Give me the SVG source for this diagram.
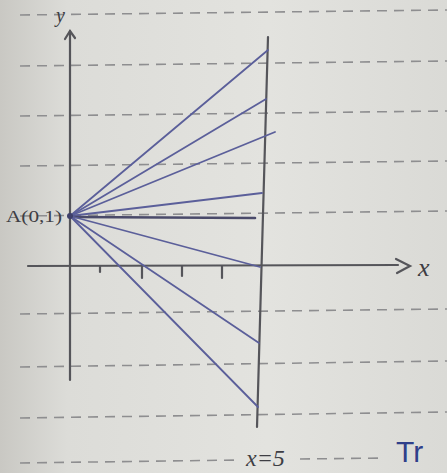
<svg xmlns="http://www.w3.org/2000/svg" width="447" height="473" viewBox="0 0 447 473">
<defs>
<linearGradient id="paper" x1="0" y1="0" x2="1" y2="0">
<stop offset="0" stop-color="#c9c8c3"/>
<stop offset="0.15" stop-color="#dcdcd8"/>
<stop offset="0.6" stop-color="#e3e3df"/>
<stop offset="1" stop-color="#dadad6"/>
</linearGradient>
<style>
.rule{stroke:#8e8e90;stroke-width:1.6;stroke-dasharray:10 7;fill:none}
.pencil{stroke:#55555a;stroke-width:2.2;fill:none;stroke-linecap:round}
.ray{stroke:#5b5f9a;stroke-width:1.8;fill:none;stroke-linecap:round}
.hand{font-family:"Liberation Serif",serif;font-style:italic;fill:#3e3e44}
</style>
</defs>
<rect width="447" height="473" fill="url(#paper)"/>
<g id="ruling">
<line class="rule" x1="20" y1="15" x2="447" y2="10"/>
<line class="rule" x1="20" y1="66" x2="447" y2="61"/>
<line class="rule" x1="20" y1="116" x2="447" y2="111"/>
<line class="rule" x1="20" y1="166" x2="447" y2="161"/>
<line class="rule" x1="20" y1="216" x2="447" y2="211"/>
<line class="rule" x1="20" y1="314" x2="447" y2="309"/>
<line class="rule" x1="20" y1="367" x2="447" y2="361"/>
<line class="rule" x1="20" y1="418" x2="447" y2="412"/>
<line class="rule" x1="20" y1="463" x2="240" y2="460"/>
<line class="rule" x1="300" y1="459" x2="385" y2="458"/>
</g>
<g id="axes">
<line class="pencil" x1="70" y1="31" x2="70" y2="380"/>
<polyline class="pencil" points="65,39 70,31 75,38"/>
<line class="pencil" x1="28" y1="266" x2="398" y2="265"/>
<polyline class="pencil" points="396,259 410,266 397,273"/>
<line class="pencil" x1="100" y1="266" x2="100" y2="272"/>
<line class="pencil" x1="142" y1="266" x2="142" y2="278"/>
<line class="pencil" x1="182" y1="266" x2="182" y2="276"/>
<line class="pencil" x1="222" y1="266" x2="222" y2="278"/>
<line class="pencil" x1="268" y1="37" x2="257" y2="427"/>
</g>
<g id="rays">
<line class="ray" x1="70" y1="216" x2="268" y2="50"/>
<line class="ray" x1="70" y1="216" x2="266" y2="99"/>
<line class="ray" x1="70" y1="216" x2="275" y2="132"/>
<line class="ray" x1="70" y1="216" x2="262" y2="193"/>
<line class="ray" x1="70" y1="217" x2="255" y2="218" style="stroke:#4a4a6a;stroke-width:2.6"/>
<line class="ray" x1="70" y1="216" x2="260" y2="267"/>
<line class="ray" x1="70" y1="216" x2="259" y2="343"/>
<line class="ray" x1="70" y1="216" x2="258" y2="407"/>
<circle cx="70" cy="216" r="3" fill="#3e3f6a"/>
</g>
<g id="labels">
<text class="hand" x="56" y="22" font-size="20">y</text>
<text class="hand" x="418" y="276" font-size="26">x</text>
<text class="hand" x="6" y="222" font-size="16" style="font-style:normal" textLength="56" lengthAdjust="spacingAndGlyphs">A(0,1)</text>
<text class="hand" x="246" y="466" font-size="24">x=5</text>
<text x="396" y="462" font-family="Liberation Sans,sans-serif" font-size="30" fill="#2f3f8a">Tr</text>
</g>
</svg>
